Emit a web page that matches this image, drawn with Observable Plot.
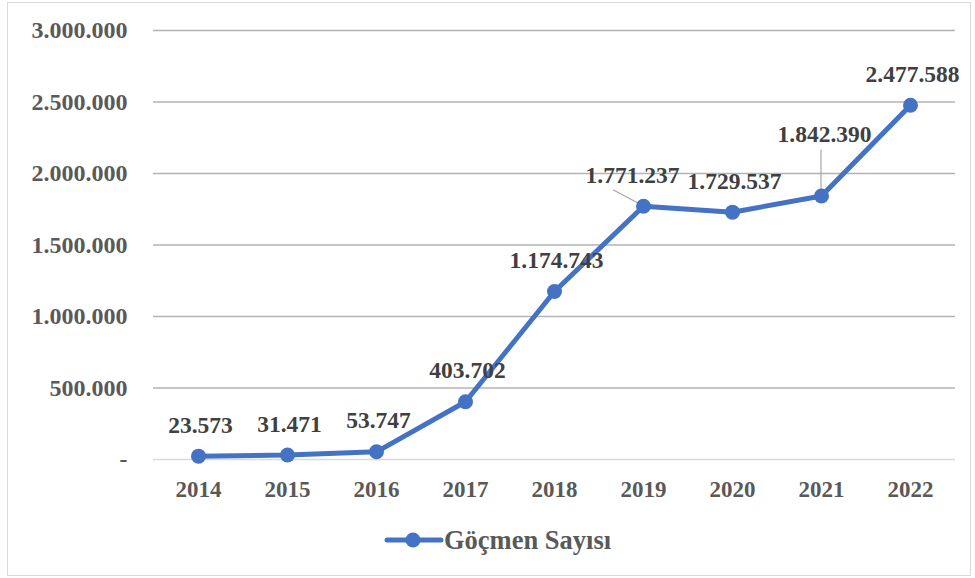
<!DOCTYPE html>
<html><head><meta charset="utf-8">
<script src="https://cdn.jsdelivr.net/npm/d3@7"></script>
<script src="https://cdn.jsdelivr.net/npm/@observablehq/plot@0.6"></script>
<style>
body{margin:0;background:#fff;}
#wrap{position:relative;width:975px;height:578px;overflow:hidden;font-family:"Liberation Serif","Times New Roman",serif;}
#frame{position:absolute;left:7px;top:2px;width:964px;height:574px;border:1px solid #d9d9d9;box-sizing:border-box;}
#chart{position:absolute;left:0;top:0;}
#legend{position:absolute;left:384px;top:522px;height:36px;display:flex;align-items:center;}
#legend svg{display:block}
#legend span{font-weight:bold;font-size:26.5px;color:#595959;margin-left:0px;line-height:36px;}
</style></head>
<body><div id="wrap"><div id="frame"></div><div id="chart"></div>
<div id="legend"><svg width="60" height="20"><line x1="3" y1="10" x2="57" y2="10" stroke="#4472C4" stroke-width="5" stroke-linecap="round"/><circle cx="29" cy="10" r="7.5" fill="#4472C4"/></svg><span>Göçmen Sayısı</span></div></div>
<script>
const years = ["2014","2015","2016","2017","2018","2019","2020","2021","2022"];
const migrants = [23573, 31471, 53747, 403702, 1174743, 1771237, 1729537, 1842390, 2477588];
const yTicks = [0, 500000, 1000000, 1500000, 2000000, 2500000, 3000000];
const seriesName = "Göçmen Sayısı";

const data = years.map((y, i) => ({year: y, value: migrants[i]}));
const loc = d3.formatLocale({thousands: ".", grouping: [3], decimal: ",", currency: ["", ""]});
const fmt = loc.format(",d");
const blue = "#4472C4";
const font = "'Liberation Serif', 'Times New Roman', serif";

const special = new Set(["2019", "2021"]);
const plot = Plot.plot({
  width: 975, height: 515,
  marginLeft: 153, marginRight: 20, marginTop: 30, marginBottom: 56,
  style: {fontFamily: font, fontWeight: "bold", fontSize: "23px", color: "#595959", background: "transparent"},
  x: {type: "point", domain: years, padding: 0.5, label: null},
  y: {domain: [0, 3000000], ticks: yTicks, label: null, tickFormat: d => d === 0 ? "-" : fmt(d)},
  marks: [
    Plot.ruleY(yTicks.filter(d => d > 0), {stroke: "#b3b3b3", strokeWidth: 1.5}),
    Plot.ruleY([0], {stroke: "#d9d9d9", strokeWidth: 1.5}),
    Plot.axisY({ticks: yTicks, tickSize: 0, tickPadding: 26, fill: "#595959", fontSize: 24, fontWeight: "bold",
      tickFormat: d => d === 0 ? "-" : fmt(d)}),
    Plot.axisX({tickSize: 0, tickPadding: 21, fill: "#595959", fontSize: 23, fontWeight: "bold"}),
    Plot.line(data, {x: "year", y: "value", stroke: blue, strokeWidth: 5, strokeLinejoin: "round"}),
    Plot.dot(data, {x: "year", y: "value", fill: blue, r: 7.5}),
    Plot.text(data.filter(d => !special.has(d.year)), {x: "year", y: "value", text: d => fmt(d.value), dx: 2, dy: -31,
      fill: "#404040", fontSize: 23.5, fontWeight: "bold"}),
    Plot.text(data.filter(d => d.year === "2019"), {x: "year", y: "value", text: d => fmt(d.value), dx: -11, dy: -31,
      fill: "#404040", fontSize: 23.5, fontWeight: "bold"}),
    Plot.text(data.filter(d => d.year === "2021"), {x: "year", y: "value", text: d => fmt(d.value), dx: 3, dy: -62,
      fill: "#404040", fontSize: 23.5, fontWeight: "bold"})
  ]
});
document.getElementById("chart").appendChild(plot);

// leader lines
const xs = plot.scale("x"), ys = plot.scale("y");
const svg = d3.select(plot);
const px = d => xs.apply(d.year), py = d => ys.apply(d.value);
const d19 = data.find(d => d.year === "2019"), d21 = data.find(d => d.year === "2021");
svg.insert("g", "g[aria-label='line']").attr("stroke", "#a6a6a6").attr("stroke-width", 1.2)
  .call(g => {
    g.append("line").attr("x1", px(d19) - 30).attr("y1", py(d19) - 16).attr("x2", px(d19)).attr("y2", py(d19));
    g.append("line").attr("x1", px(d21)).attr("y1", py(d21) - 46).attr("x2", px(d21)).attr("y2", py(d21));
  });
</script></body></html>
